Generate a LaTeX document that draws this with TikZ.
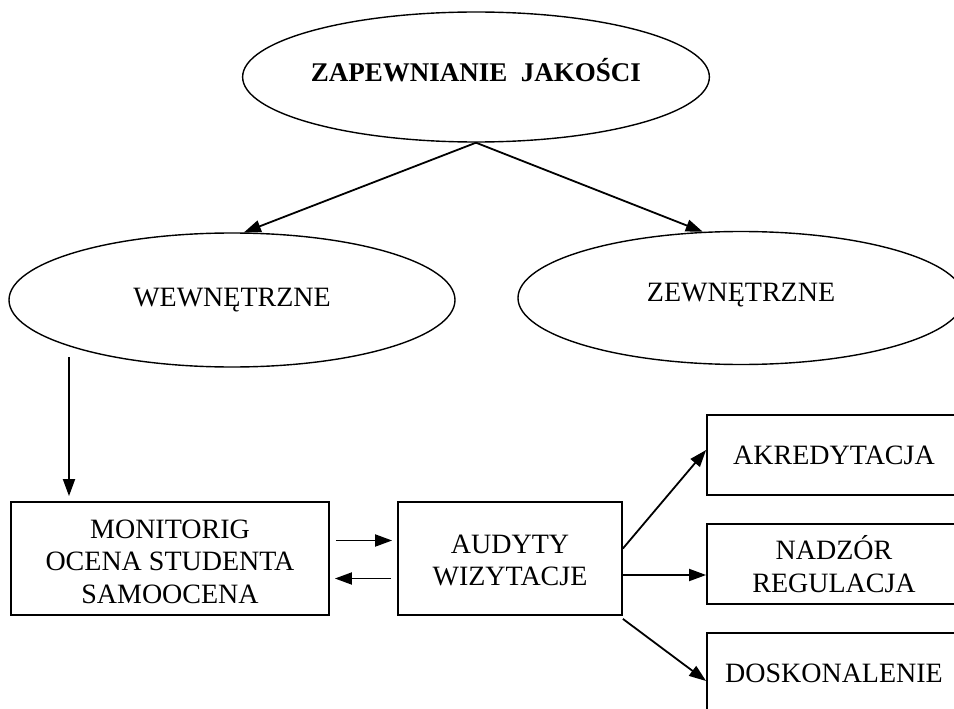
\documentclass[tikz,border=0pt]{standalone}
\usepackage{fontspec}
\setmainfont{Liberation Serif}
\usetikzlibrary{shapes.geometric,arrows.meta}
\begin{document}
\begin{tikzpicture}[x=1pt,y=-1pt,
  ell/.style={draw,ellipse,line width=1.4pt,inner sep=0pt,font=\fontsize{28}{32}\selectfont},
  box/.style={draw,rectangle,line width=1.8pt,inner sep=0pt,align=center,font=\fontsize{28}{32.5}\selectfont},
  arr/.style={line width=1.8pt,-{Triangle[length=17pt,width=12pt]}}]
\useasboundingbox (0,0) rectangle (954,709);
\fill[white] (0,0) rectangle (954,709);
\node[ell,minimum width=447pt,minimum height=130pt] (top) at (476,77) {\raisebox{7pt}[\height][\depth]{\fontsize{27}{32}\selectfont\bfseries ZAPEWNIANIE\ \ JAKOŚCI}};
\node[ell,minimum width=446pt,minimum height=134pt] (wew) at (232,300) {WEWNĘTRZNE};
\node[ell,minimum width=446pt,minimum height=133pt] (zew) at (741,298) {\raisebox{3pt}[\height][\depth]{ZEWNĘTRZNE}};
\node[box,minimum width=318pt,minimum height=113pt] (mon) at (170,558.5) {\raisebox{-3pt}[\height][\depth]{\parbox{300pt}{\centering MONITORIG\\OCENA STUDENTA\\SAMOOCENA}}};
\node[box,minimum width=224pt,minimum height=113pt] (aud) at (510,558.5) {\raisebox{-2pt}[\height][\depth]{\parbox{210pt}{\centering AUDYTY\\WIZYTACJE}}};
\node[box,minimum width=254pt,minimum height=80pt] (ak) at (834,455) {AKREDYTACJA};
\node[box,minimum width=254pt,minimum height=80pt] (nad) at (834,564) {NADZÓR\\REGULACJA};
\node[box,minimum width=254pt,minimum height=80pt] (dos) at (834,673) {DOSKONALENIE};
\draw[arr] (top.south) -- (wew.80);
\draw[arr] (top.south) -- (zew.120);
\coordinate (c1) at (69,357);
\draw[arr,shorten >=5pt] (c1) -- (c1 |- mon.north);
\draw[arr,shorten <=6pt,shorten >=5pt] ([yshift=18pt]mon.east) -- ([yshift=18pt]aud.west);
\draw[arr,shorten <=6pt,shorten >=5pt] ([yshift=-20pt]aud.west) -- ([yshift=-20pt]mon.east);
\draw[arr] ([yshift=10pt]aud.east) -- ([yshift=5pt]ak.west);
\draw[arr] ([yshift=-16.5pt]aud.east) -- ([yshift=-11pt]nad.west);
\draw[arr] ([yshift=-3pt]aud.south east) -- ([yshift=-8pt]dos.west);
\end{tikzpicture}
\end{document}
